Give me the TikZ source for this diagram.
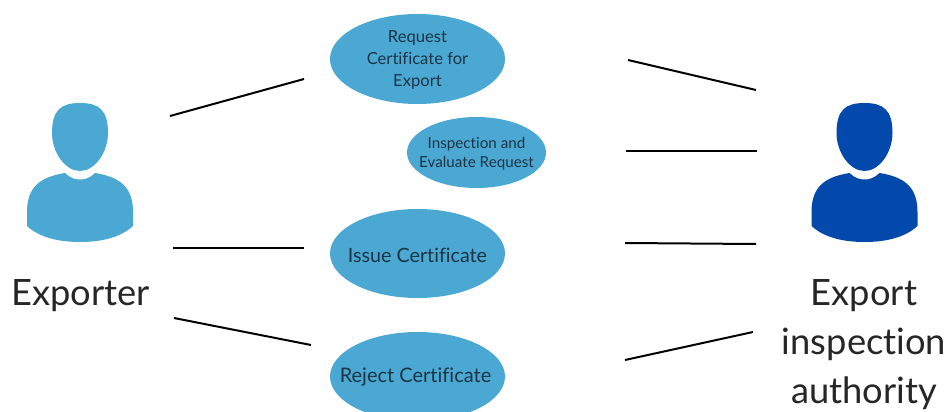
\documentclass[tikz,border=0pt]{standalone}
\usepackage{fontspec}
\setmainfont[Ligatures=NoCommon]{Lato}
\usetikzlibrary{shapes.geometric}
\definecolor{lightblue}{HTML}{4AA8D2}
\definecolor{darkblue}{HTML}{0349AB}
\definecolor{inktext}{HTML}{1C3445}
\tikzset{
  usecase/.style={ellipse,fill=lightblue,inner sep=-30pt,outer sep=0pt,align=center,text=inktext},
  link/.style={draw=black,line width=2pt},
  actorlabel/.style={align=center,text=black!85,font=\fontsize{36.3}{49}\selectfont},
}
\newcommand{\actorshape}[2]{%
  \fill[#2] (#1,103) .. controls (#1-19,103) and (#1-28,110) .. (#1-28,133)
     .. controls (#1-28,152) and (#1-15,171) .. (#1,171)
     .. controls (#1+15,171) and (#1+28,152) .. (#1+28,133)
     .. controls (#1+28,110) and (#1+19,103) .. (#1,103) -- cycle;
  \fill[#2] (#1-15,173) .. controls (#1-10,178) and (#1-5,179.5) .. (#1,179.5)
     .. controls (#1+5,179.5) and (#1+10,178) .. (#1+15,173)
     .. controls (#1+40,177) and (#1+53,187) .. (#1+53,212)
     -- (#1+53,226) .. controls (#1+40,238) and (#1+20,242) .. (#1,242)
     .. controls (#1-20,242) and (#1-40,238) .. (#1-53,226)
     -- (#1-53,212) .. controls (#1-53,187) and (#1-40,177) .. (#1-15,173) -- cycle;
}
\begin{document}
\begin{tikzpicture}[x=1pt,y=-1pt]
\clip (0,0) rectangle (948,412);
\useasboundingbox (0,0) rectangle (948,412);
\actorshape{80}{lightblue}
\actorshape{864.5}{darkblue}
\node[actorlabel] (exporter) at (80.5,295.5) {Exporter};
\node[actorlabel] (authority) at (864,344.5) {Export\\inspection\\authority};
\node[usecase,minimum width=175pt,minimum height=90pt] (request) at (417.5,59) {};
\node[align=center,text=inktext,font=\fontsize{16.6}{22}\selectfont] (requesttext) at (417.5,60) {Request\\Certificate for\\Export};
\node[usecase,minimum width=139pt,minimum height=71pt] (inspect) at (476.5,152.5) {};
\node[align=center,text=inktext,font=\fontsize{15.2}{19}\selectfont] (inspecttext) at (476.5,153.5) {Inspection and\\Evaluate Request};
\node[usecase,minimum width=175pt,minimum height=89pt] (issue) at (417.5,253.5) {};
\node[text=inktext,font=\fontsize{19.7}{22}\selectfont] (issuetext) at (417.5,255) {Issue Certificate};
\node[usecase,minimum width=175pt,minimum height=89pt] (reject) at (417.5,376.5) {};
\node[text=inktext,font=\fontsize{20}{22}\selectfont] (rejecttext) at (415.5,377) {Reject Certificate};
\coordinate (a1) at (170,116); \coordinate (b1) at (304,79);
\coordinate (a2) at (173,248); \coordinate (b2) at (304,248);
\coordinate (a3) at (174,318); \coordinate (b3) at (311,345);
\coordinate (c1) at (628,60);  \coordinate (d1) at (756,90);
\coordinate (c2) at (626,151); \coordinate (d2) at (757,151);
\coordinate (c3) at (625,243); \coordinate (d3) at (756,244);
\coordinate (c4) at (625,360); \coordinate (d4) at (753,332);
\draw[link] (a1) -- (b1);
\draw[link] (a2) -- (b2);
\draw[link] (a3) -- (b3);
\draw[link] (c1) -- (d1);
\draw[link] (c2) -- (d2);
\draw[link] (c3) -- (d3);
\draw[link] (c4) -- (d4);
\end{tikzpicture}
\end{document}
